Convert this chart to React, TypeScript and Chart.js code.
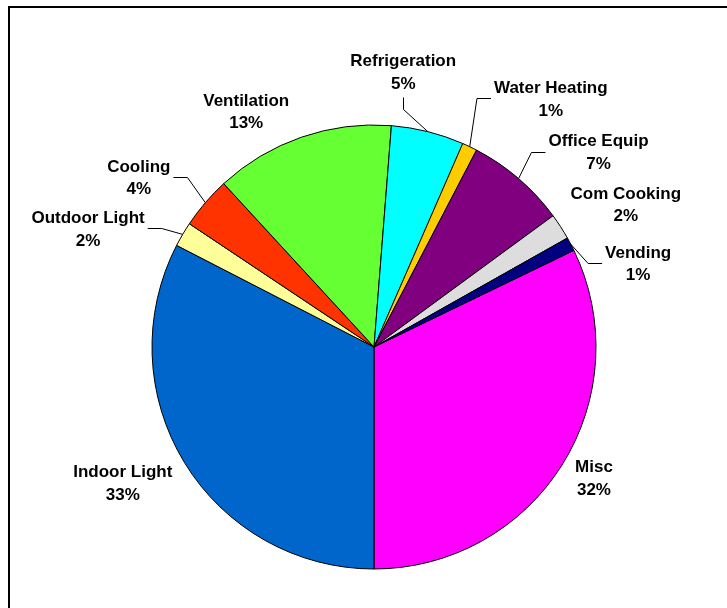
import React, { useEffect, useRef } from "react";
import { Chart, registerables } from "chart.js";

Chart.register(...registerables);

// ---- data (clockwise from the Misc slice) ----
const categories = [
  "Misc",
  "Indoor Light",
  "Outdoor Light",
  "Cooling",
  "Ventilation",
  "Refrigeration",
  "Water Heating",
  "Office Equip",
  "Com Cooking",
  "Vending",
];
const shares = [32.2, 32.6, 1.8, 3.8, 13.1, 5.3, 1.1, 7.3, 1.9, 1.0];

// ---- styles ----
const sliceColors = [
  "#FF00FF",
  "#0066CC",
  "#FFFF99",
  "#FF3300",
  "#66FF33",
  "#00FFFF",
  "#FFCC00",
  "#800080",
  "#DDDDDD",
  "#000080",
];
// label placement: offset of label centre x / first baseline from the slice's outer mid point
const labelOffsets: [number, number][] = [
  [31.9, 7.3],
  [-61.7, 14.6],
  [-94.6, -11.2],
  [-66.5, -31],
  [-55.3, -31.5],
  [-24.6, -65.6],
  [81.1, -53.5],
  [79.9, -32.1],
  [65.2, -28.1],
  [67.4, 13.8],
];
// side of the label where a leader line attaches
const leaderSides = ["none", "none", "right", "right", "none", "bottom", "left", "left", "none", "left"];

const FONT = 'bold 17px "Liberation Sans", Arial, sans-serif';
const LINE_GAP = 22.5;
const CAP = 12.3;

const framePlugin = {
  id: "frame",
  beforeDraw(chart: any) {
    const ctx = chart.ctx;
    ctx.save();
    ctx.fillStyle = "#ffffff";
    ctx.fillRect(0, 0, chart.width, chart.height);
    ctx.fillStyle = "#000000";
    ctx.fillRect(8, 6, chart.width - 8, 2);
    ctx.fillRect(8, 6, 2, chart.height - 6);
    ctx.restore();
  },
};

const labelPlugin = {
  id: "pieLabels",
  afterDraw(chart: any) {
    const ctx = chart.ctx;
    const meta = chart.getDatasetMeta(0);
    const total = shares.reduce((a, b) => a + b, 0);
    ctx.save();
    ctx.font = FONT;
    ctx.fillStyle = "#000";
    ctx.textAlign = "center";
    ctx.textBaseline = "alphabetic";
    ctx.strokeStyle = "#000";
    ctx.lineWidth = 1;
    meta.data.forEach((el: any, i: number) => {
      const { x, y, startAngle, endAngle, outerRadius } = el.getProps(
        ["x", "y", "startAngle", "endAngle", "outerRadius"],
        true
      );
      const mid = (startAngle + endAngle) / 2;
      const ex = x + outerRadius * Math.cos(mid);
      const ey = y + outerRadius * Math.sin(mid);
      const cx = ex + labelOffsets[i][0];
      const b1 = ey + labelOffsets[i][1];
      const b2 = b1 + LINE_GAP;
      const l1 = categories[i];
      const l2 = Math.round((shares[i] / total) * 100) + "%";
      ctx.fillText(l1, cx, b1);
      ctx.fillText(l2, cx, b2);
      const w = Math.max(ctx.measureText(l1).width, ctx.measureText(l2).width);
      const midY = Math.round((b1 - CAP + b2) / 2) + 0.5;
      const side = leaderSides[i];
      let pts: [number, number][] | null = null;
      if (side === "left") {
        const sx = cx - w / 2 - 3;
        pts = [[sx, midY], [sx - 14, midY], [ex, ey]];
      } else if (side === "right") {
        const sx = cx + w / 2 + 3;
        pts = [[sx, midY], [sx + 14, midY], [ex, ey]];
      } else if (side === "bottom") {
        const vx = Math.round(cx) + 0.5;
        pts = [[vx, b2 + 9], [vx, b2 + 21], [ex, ey]];
      }
      if (pts) {
        ctx.beginPath();
        ctx.moveTo(pts[0][0], pts[0][1]);
        for (let k = 1; k < pts.length; k++) ctx.lineTo(pts[k][0], pts[k][1]);
        ctx.stroke();
      }
    });
    ctx.restore();
  },
};

export default function App() {
  const ref = useRef<HTMLCanvasElement | null>(null);
  useEffect(() => {
    if (!ref.current) return;
    const chart = new Chart(ref.current, {
      type: "pie",
      data: {
        labels: categories,
        datasets: [
          {
            data: shares,
            backgroundColor: sliceColors,
            borderColor: "#000000",
            borderWidth: 1,
          },
        ],
      },
      options: {
        responsive: false,
        animation: false,
        devicePixelRatio: 1,
        rotation: 64.2,
        radius: 222,
        layout: { padding: { left: 144, right: 123, top: 117, bottom: 31 } },
        plugins: {
          legend: { display: false },
          tooltip: { enabled: false },
        },
      } as any,
      plugins: [framePlugin, labelPlugin],
    });
    return () => chart.destroy();
  }, []);
  return (
    <div style={{ position: "fixed", left: 0, top: 0, width: 727, height: 608, background: "#fff" }}>
      <canvas ref={ref} width={727} height={608} style={{ display: "block" }} />
    </div>
  );
}
